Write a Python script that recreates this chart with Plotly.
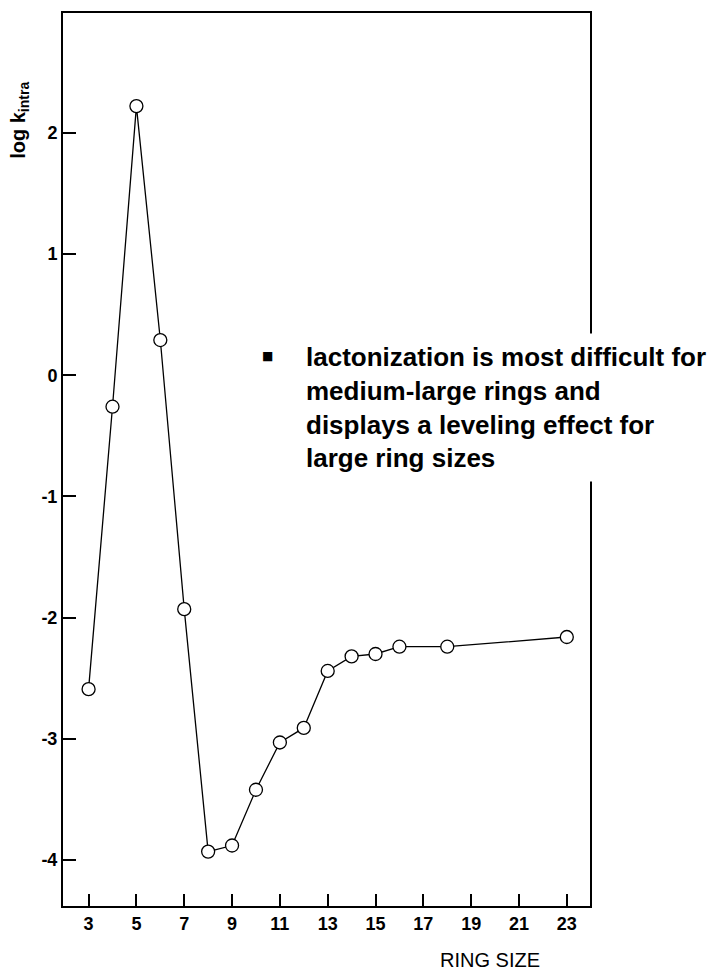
import plotly.graph_objects as go

ring_size = [3, 4, 5, 6, 7, 8, 9, 10, 11, 12, 13, 14, 15, 16, 18, 23]
log_k_intra = [-2.59, -0.26, 2.22, 0.29, -1.93, -3.93, -3.88, -3.42, -3.03,
               -2.91, -2.44, -2.32, -2.30, -2.24, -2.24, -2.16]
x_ticks = [3, 5, 7, 9, 11, 13, 15, 17, 19, 21, 23]
y_ticks = [-4, -3, -2, -1, 0, 1, 2]
y_tick_labels = ["-4", "-3", "-2", "-1", "0", "1", "2"]

note_lines = ["lactonization is most difficult for",
              "medium-large rings and",
              "displays a leveling effect for",
              "large ring sizes"]

fig = go.Figure()
fig.add_trace(go.Scatter(
    x=ring_size, y=log_k_intra, mode="lines+markers",
    line=dict(color="black", width=1.3),
    marker=dict(symbol="circle", size=13, color="white",
                line=dict(color="black", width=1.3)),
    showlegend=False, hoverinfo="skip"))

axis_font = dict(family="Liberation Sans, Arial, sans-serif", size=18,
                 color="black", weight="bold")

fig.update_layout(
    width=712, height=972,
    margin=dict(l=63, r=122, t=11, b=66),
    paper_bgcolor="white", plot_bgcolor="white",
    xaxis=dict(range=[1.93, 23.97], tickvals=x_ticks,
               ticks="inside", ticklen=12, tickwidth=2, tickcolor="black",
               showline=True, linewidth=2, linecolor="black", mirror=True,
               showgrid=False, zeroline=False, tickfont=axis_font),
    yaxis=dict(range=[-4.379, 2.988], tickvals=y_ticks, ticktext=y_tick_labels,
               ticks="inside", ticklen=13, tickwidth=2, tickcolor="black",
               showline=True, linewidth=2, linecolor="black", mirror=True,
               showgrid=False, zeroline=False, tickfont=axis_font),
)

# y-axis title
fig.add_annotation(
    text="log k<sub>intra</sub>", xref="paper", yref="paper",
    x=-0.0816, y=0.8804, textangle=-90, showarrow=False,
    xanchor="center", yanchor="middle",
    font=dict(family="Liberation Sans, Arial, sans-serif", size=20,
              color="black", weight="bold"))

# x-axis title
fig.add_annotation(
    text="RING SIZE", xref="paper", yref="paper",
    x=0.81, y=-0.0603, showarrow=False, xanchor="center", yanchor="middle",
    font=dict(family="Liberation Sans, Arial, sans-serif", size=20,
              color="black"))

# note text block with white background (covers the frame)
fig.add_annotation(
    text="<br>".join(note_lines), xref="paper", yref="paper",
    x=(297 - 63) / 527, y=(906 - 406) / 895, showarrow=False,
    xanchor="left", yanchor="middle", align="left",
    bgcolor="white", borderpad=8,
    font=dict(family="Liberation Sans, Arial, sans-serif", size=26,
              color="black", weight="bold"))

# bullet
fig.add_annotation(
    text="■", xref="paper", yref="paper",
    x=(267 - 63) / 527, y=(906 - 355) / 895, showarrow=False,
    xanchor="center", yanchor="middle",
    font=dict(family="DejaVu Sans", size=12, color="black"))

fig.write_html("out.html")
